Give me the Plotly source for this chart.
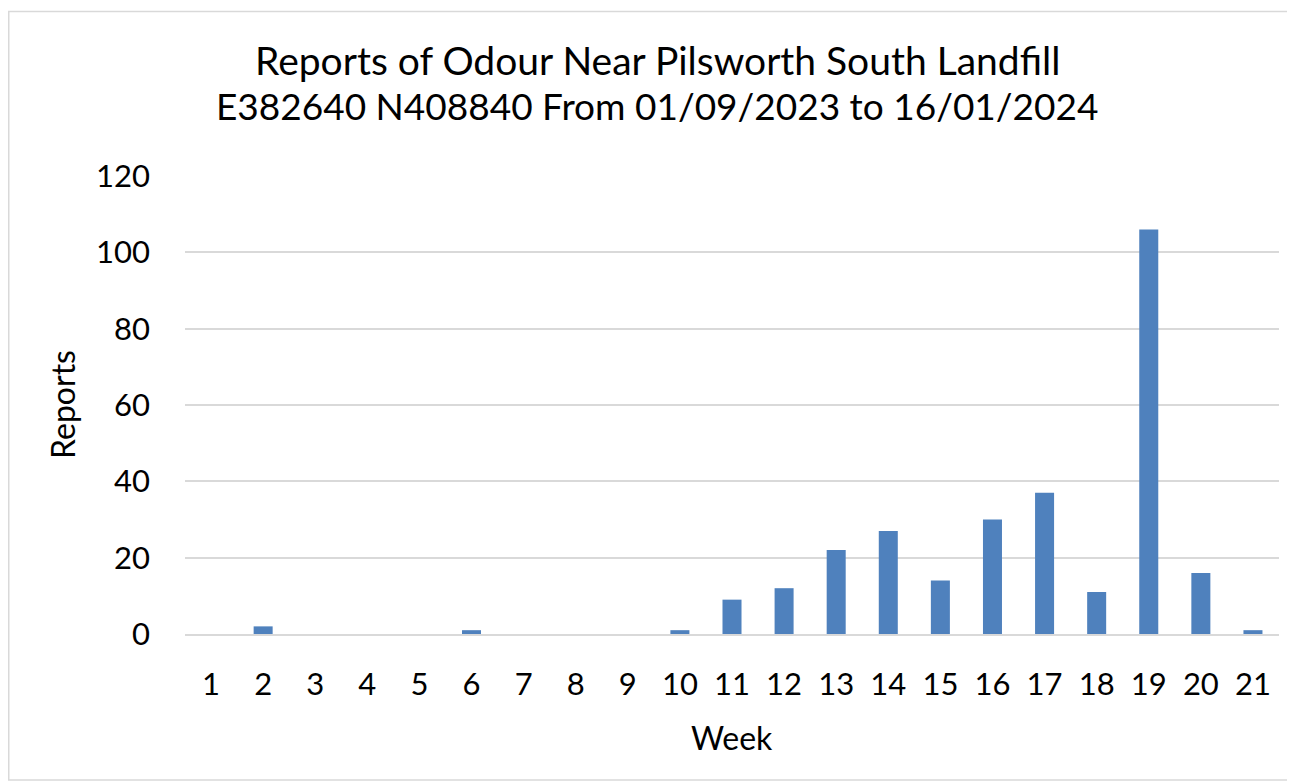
import plotly.graph_objects as go

weeks = [str(i) for i in range(1, 22)]
reports = [0, 2, 0, 0, 0, 1, 0, 0, 0, 1, 9, 12, 22, 27, 14, 30, 37, 11, 106, 16, 1]
title_lines = ["Reports of Odour Near Pilsworth South Landfill",
               "E382640 N408840 From 01/09/2023 to 16/01/2024"]

FONT = "Lato, Carlito, Calibri, sans-serif"
OFF = 8  # page body margin
W, H = 1295 - OFF, 783 - OFF
L, T = 185 - OFF, 176 - OFF
pw, ph = 1094, 458
R, B = W - L - pw, H - T - ph

def px(x):  # page px -> paper
    return (x - OFF - L) / pw

def py(y):
    return (T + ph - (y - OFF)) / ph

fig = go.Figure(go.Bar(x=weeks, y=reports, marker_color="#4f81bd",
                       marker_line_width=0, width=0.365))

fig.update_layout(
    width=W, height=H,
    margin=dict(l=L, r=R, t=T, b=B),
    paper_bgcolor="white", plot_bgcolor="white",
    font=dict(family=FONT, size=31, color="#000000"),
    showlegend=False,
)
fig.update_xaxes(type="category", showgrid=False, showline=True, linecolor="#d9d9d9",
                 linewidth=1.5, ticks="", tickfont=dict(size=31), ticklabelstandoff=22)
fig.update_yaxes(range=[0, 120], dtick=20, showgrid=True, gridcolor="#d9d9d9", gridwidth=1.5,
                 zeroline=False, showline=False, ticks="", tickfont=dict(size=31),
                 ticklabelstandoff=34)

for line, yc, fs in zip(title_lines, [60, 106], [39, 37]):
    fig.add_annotation(text=line, xref="paper", yref="paper",
                       x=px(657), y=py(yc), xanchor="center", yanchor="middle",
                       showarrow=False, font=dict(size=fs, family=FONT))
fig.add_annotation(text="Week", xref="paper", yref="paper", x=px(732), y=py(737),
                   xanchor="center", yanchor="middle", showarrow=False,
                   font=dict(size=32, family=FONT))
fig.add_annotation(text="Reports", xref="paper", yref="paper", x=px(62), y=py(405),
                   xanchor="center", yanchor="middle", showarrow=False, textangle=-90,
                   font=dict(size=32, family=FONT))
fig.add_shape(type="rect", xref="paper", yref="paper",
              x0=px(OFF + 0.75), x1=px(1290), y0=py(780), y1=py(11.5),
              line=dict(color="#d9d9d9", width=1.5), fillcolor="rgba(0,0,0,0)", layer="below")

fig.write_html("out.html")
